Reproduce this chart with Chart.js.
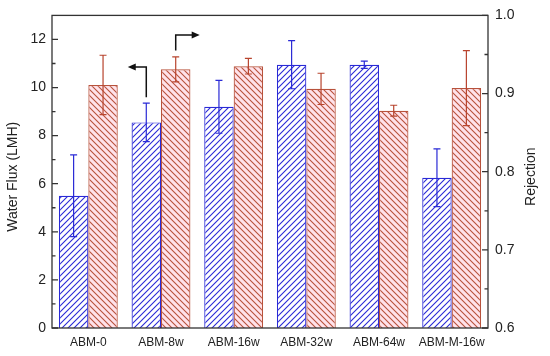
<!DOCTYPE html>
<html>
<head>
<meta charset="utf-8">
<script src="https://cdn.jsdelivr.net/npm/chart.js@4"></script>
<style>
  html, body { margin: 0; padding: 0; background: #fff; }
  #wrap { width: 550px; height: 356px; }
</style>
</head>
<body>
<div id="wrap"><canvas id="fluxChart" width="550" height="356"></canvas></div>
<script>
const categories = ['ABM-0', 'ABM-8w', 'ABM-16w', 'ABM-32w', 'ABM-64w', 'ABM-M-16w'];
const flux = [5.5, 8.55, 9.2, 10.95, 10.95, 6.25];
const fluxErr = [1.7, 0.8, 1.1, 1.0, 0.15, 1.2];
const rejection = [0.911, 0.931, 0.935, 0.906, 0.878, 0.907];
const rejectionErr = [0.038, 0.016, 0.01, 0.02, 0.007, 0.048];
const fluxTicks = [0, 2, 4, 6, 8, 10, 12];
const fluxMinor = [1, 3, 5, 7, 9, 11];
const rejTicks = [0.6, 0.7, 0.8, 0.9, 1.0];
const rejMinor = [0.65, 0.75, 0.85, 0.95];

const blue = '#2a2ad6';
const red = '#b8523c';
const fontFam = '"Liberation Sans", Arial, sans-serif';

function hatch(color, bg, forward) {
  let c = document.createElement('canvas');
  c.width = 6; c.height = 6;
  let g = c.getContext('2d');
  g.fillStyle = bg;
  g.fillRect(0, 0, 6, 6);
  g.strokeStyle = color;
  g.lineWidth = 1.1;
  g.beginPath();
  if (forward) {
    g.moveTo(-1, 7); g.lineTo(7, -1);
    g.moveTo(-4, 4); g.lineTo(4, -4);
    g.moveTo(2, 10); g.lineTo(10, 2);
  } else {
    g.moveTo(-1, -1); g.lineTo(7, 7);
    g.moveTo(-4, 2); g.lineTo(4, 10);
    g.moveTo(2, -4); g.lineTo(10, 4);
  }
  g.stroke();
  return g.createPattern(c, 'repeat');
}

const extras = {
  id: 'extras',
  afterDatasetsDraw(chart) {
    const ctx = chart.ctx;
    const a = chart.chartArea;
    const yL = chart.scales.y, yR = chart.scales.y1;
    ctx.save();

    // error bars
    const drawErr = (dsIndex, vals, errs, scale, color) => {
      const meta = chart.getDatasetMeta(dsIndex);
      ctx.strokeStyle = color;
      ctx.lineWidth = 1.2;
      meta.data.forEach((bar, i) => {
        const cx = bar.x;
        const top = scale.getPixelForValue(vals[i] + errs[i]);
        const bot = scale.getPixelForValue(vals[i] - errs[i]);
        ctx.beginPath();
        ctx.moveTo(cx, top); ctx.lineTo(cx, bot);
        ctx.moveTo(cx - 3.5, top); ctx.lineTo(cx + 3.5, top);
        ctx.moveTo(cx - 3.5, bot); ctx.lineTo(cx + 3.5, bot);
        ctx.stroke();
      });
    };
    drawErr(0, flux, fluxErr, yL, blue);
    drawErr(1, rejection, rejectionErr, yR, '#b8442e');

    // frame
    ctx.strokeStyle = '#333';
    ctx.lineWidth = 1.3;
    ctx.strokeRect(a.left, a.top, a.right - a.left, a.bottom - a.top);

    // inward ticks
    ctx.beginPath();
    fluxTicks.forEach(v => { const p = yL.getPixelForValue(v); ctx.moveTo(a.left, p); ctx.lineTo(a.left + 6, p); });
    fluxMinor.forEach(v => { const p = yL.getPixelForValue(v); ctx.moveTo(a.left, p); ctx.lineTo(a.left + 3.5, p); });
    rejTicks.forEach(v => { const p = yR.getPixelForValue(v); ctx.moveTo(a.right, p); ctx.lineTo(a.right - 6, p); });
    rejMinor.forEach(v => { const p = yR.getPixelForValue(v); ctx.moveTo(a.right, p); ctx.lineTo(a.right - 3.5, p); });
    ctx.stroke();

    // axis titles, both reading bottom to top
    const midY = (a.top + a.bottom) / 2 + 5;
    ctx.fillStyle = '#222';
    ctx.font = '14px ' + fontFam;
    ctx.textAlign = 'center';
    ctx.textBaseline = 'middle';
    [[13, 'Water Flux (LMH)'], [531, 'Rejection']].forEach(([tx, txt]) => {
      ctx.save();
      ctx.translate(tx, midY);
      ctx.rotate(-Math.PI / 2);
      ctx.fillText(txt, 0, 0);
      ctx.restore();
    });

    // arrows pointing to each axis
    const b1 = chart.getDatasetMeta(0).data[1];
    const b2 = chart.getDatasetMeta(1).data[1];
    const b0 = chart.getDatasetMeta(1).data[0];
    ctx.strokeStyle = '#111';
    ctx.fillStyle = '#111';
    ctx.lineWidth = 1.5;
    let ax = b1.x, ay0 = yL.getPixelForValue(9.6), ay1 = yL.getPixelForValue(10.85);
    let tipL = b0.x + b0.width / 2 + 10;
    ctx.beginPath();
    ctx.moveTo(ax, ay0); ctx.lineTo(ax, ay1); ctx.lineTo(tipL + 6, ay1);
    ctx.stroke();
    ctx.beginPath();
    ctx.moveTo(tipL, ay1); ctx.lineTo(tipL + 8, ay1 - 3.5); ctx.lineTo(tipL + 8, ay1 + 3.5); ctx.closePath();
    ctx.fill();

    let bx = b2.x, by0 = yR.getPixelForValue(0.955), by1 = yR.getPixelForValue(0.975);
    let tipR = bx + 24;
    ctx.beginPath();
    ctx.moveTo(bx, by0); ctx.lineTo(bx, by1); ctx.lineTo(tipR - 6, by1);
    ctx.stroke();
    ctx.beginPath();
    ctx.moveTo(tipR, by1); ctx.lineTo(tipR - 8, by1 - 3.5); ctx.lineTo(tipR - 8, by1 + 3.5); ctx.closePath();
    ctx.fill();

    ctx.restore();
  }
};

const ctx = document.getElementById('fluxChart').getContext('2d');
const myChart = new Chart(ctx, {
  type: 'bar',
  data: {
    labels: categories,
    datasets: [
      {
        label: 'Water Flux',
        data: flux,
        yAxisID: 'y',
        backgroundColor: hatch(blue, '#ffffff', true),
        borderColor: blue,
        borderWidth: 1.2,
        categoryPercentage: 0.81,
        barPercentage: 1.0,
      },
      {
        label: 'Rejection',
        data: rejection,
        yAxisID: 'y1',
        backgroundColor: hatch(red, '#ffe2ea', false),
        borderColor: red,
        borderWidth: 1.2,
        categoryPercentage: 0.81,
        barPercentage: 1.0,
      }
    ]
  },
  options: {
    responsive: false,
    animation: false,
    layout: { padding: { top: 15, left: 0, right: 0, bottom: 0 } },
    plugins: { legend: { display: false }, tooltip: { enabled: false } },
    scales: {
      x: {
        grid: { display: false, drawTicks: false },
        border: { display: false },
        ticks: { color: '#222', font: { family: fontFam, size: 12 }, padding: 7, maxRotation: 0 },
        afterFit(s) { s.height = 28; }
      },
      y: {
        position: 'left',
        min: 0, max: 13,
        grid: { display: false, drawTicks: false },
        border: { display: false },
        afterBuildTicks(s) { s.ticks = fluxTicks.map(v => ({ value: v })); },
        ticks: { color: '#222', font: { family: fontFam, size: 14 }, padding: 6 },
        afterFit(s) { s.width = 52; }
      },
      y1: {
        position: 'right',
        min: 0.6, max: 1.0,
        grid: { display: false, drawTicks: false },
        border: { display: false },
        afterBuildTicks(s) { s.ticks = rejTicks.map(v => ({ value: v })); },
        ticks: { color: '#222', font: { family: fontFam, size: 14 }, padding: 7, callback: v => v.toFixed(1) },
        afterFit(s) { s.width = 62; }
      }
    }
  },
  plugins: [extras]
});
</script>
</body>
</html>
